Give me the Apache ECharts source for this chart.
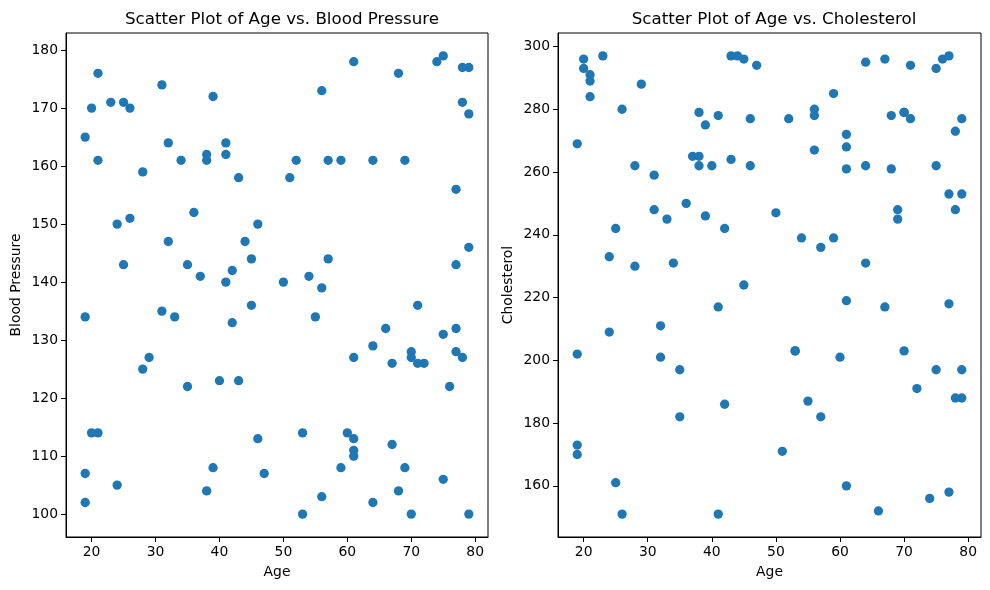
<!DOCTYPE html>
<html>
<head>
<meta charset="utf-8">
<script src="https://cdn.jsdelivr.net/npm/echarts@6/dist/echarts.min.js"></script>
<style>
html,body{margin:0;padding:0;background:#fff;}
#chart{width:990px;height:590px;}
</style>
</head>
<body>
<div id="chart"></div>
<script>
const age = [19,19,19,19,20,20,21,21,21,23,24,24,25,25,26,26,28,28,29,31,31,32,32,33,34,35,35,36,37,38,38,38,39,39,40,41,41,41,42,42,43,43,44,45,45,46,46,47,50,51,52,53,53,54,55,56,56,56,57,57,59,59,60,61,61,61,61,61,64,64,64,66,67,67,68,68,69,69,70,70,70,71,71,72,74,75,75,75,76,77,77,77,77,78,78,78,79,79,79,79];
const bloodPressure = [165,134,107,102,170,114,176,161,114,171,150,105,171,143,170,151,159,125,127,174,135,164,147,134,161,143,122,152,141,162,161,104,172,108,123,164,162,140,142,133,158,123,147,144,136,150,113,107,140,158,161,114,100,141,134,173,139,103,161,144,161,108,114,178,127,113,111,110,161,129,102,132,126,112,176,104,161,108,128,127,100,136,126,126,178,179,131,106,122,156,143,132,128,177,171,127,177,169,146,100];
const cholesterol = [269,202,173,170,296,293,291,289,284,297,233,209,242,161,280,151,262,230,288,259,248,211,201,245,231,197,182,250,265,279,265,262,275,246,262,278,217,151,242,186,297,264,297,296,224,277,262,294,247,171,277,203,203,239,187,280,278,267,236,182,285,239,201,272,268,261,219,160,295,262,231,152,296,217,278,261,248,245,279,279,203,294,277,191,156,293,262,197,296,297,253,218,158,273,248,188,277,253,197,188];
const ageTicks = [20,30,40,50,60,70,80];
const bpTicks = [100,110,120,130,140,150,160,170,180];
const cholTicks = [160,180,200,220,240,260,280,300];
const titles = ['Scatter Plot of Age vs. Blood Pressure','Scatter Plot of Age vs. Cholesterol'];
const axisNames = {x:'Age', y1:'Blood Pressure', y2:'Cholesterol'};

function pad(arr){
  const mn = Math.min(...arr), mx = Math.max(...arr), m = (mx-mn)*0.05;
  return [mn-m, mx+m];
}
const ax = pad(age), b = pad(bloodPressure), c = pad(cholesterol);
const font = 'DejaVu Sans';
const C = '#1f77b4';
const FS = 13.9;

function xAxis(idx){
  return {
    type:'value', gridIndex:idx, min:ax[0], max:ax[1],
    name:axisNames.x, nameLocation:'middle', nameGap:28,
    nameTextStyle:{fontFamily:font,fontSize:FS,color:'#000'},
    axisLine:{show:true,onZero:false,lineStyle:{color:'#000',width:1}},
    axisTick:{show:true,inside:false,length:5,customValues:ageTicks,lineStyle:{color:'#000'}},
    axisLabel:{show:true,margin:8,customValues:ageTicks,fontFamily:font,fontSize:FS,color:'#000'},
    splitLine:{show:false}
  };
}
function yAxis(idx,range,ticks,name,gap){
  return {
    type:'value', gridIndex:idx, min:range[0], max:range[1],
    name:name, nameLocation:'middle', nameGap:gap, nameRotate:90,
    nameTextStyle:{fontFamily:font,fontSize:FS,color:'#000'},
    axisLine:{show:true,onZero:false,lineStyle:{color:'#000',width:1}},
    axisTick:{show:true,inside:false,length:5,customValues:ticks,lineStyle:{color:'#000'}},
    axisLabel:{show:true,margin:8,customValues:ticks,fontFamily:font,fontSize:FS,color:'#000'},
    splitLine:{show:false}
  };
}

const chart = echarts.init(document.getElementById('chart'), null, {renderer:'canvas'});
chart.setOption({
  animation:false,
  backgroundColor:'#fff',
  title:[
    {text:titles[0],left:277,top:6,textAlign:'center',textStyle:{fontFamily:font,fontSize:16.7,fontWeight:'normal',color:'#000'}},
    {text:titles[1],left:769,top:6,textAlign:'center',textStyle:{fontFamily:font,fontSize:16.7,fontWeight:'normal',color:'#000'}}
  ],
  grid:[
    {left:66,top:33,width:422,height:504,show:true,borderColor:'#000',borderWidth:1,containLabel:false},
    {left:558,top:33,width:423,height:504,show:true,borderColor:'#000',borderWidth:1,containLabel:false}
  ],
  xAxis:[xAxis(0),xAxis(1)],
  yAxis:[yAxis(0,b,bpTicks,axisNames.y1,43),yAxis(1,c,cholTicks,axisNames.y2,43)],
  series:[
    {type:'scatter',xAxisIndex:0,yAxisIndex:0,symbolSize:9.3,itemStyle:{color:C,opacity:1},
     data:age.map((a,i)=>[a,bloodPressure[i]])},
    {type:'scatter',xAxisIndex:1,yAxisIndex:1,symbolSize:9.3,itemStyle:{color:C,opacity:1},
     data:age.map((a,i)=>[a,cholesterol[i]])}
  ]
});
</script>
</body>
</html>
